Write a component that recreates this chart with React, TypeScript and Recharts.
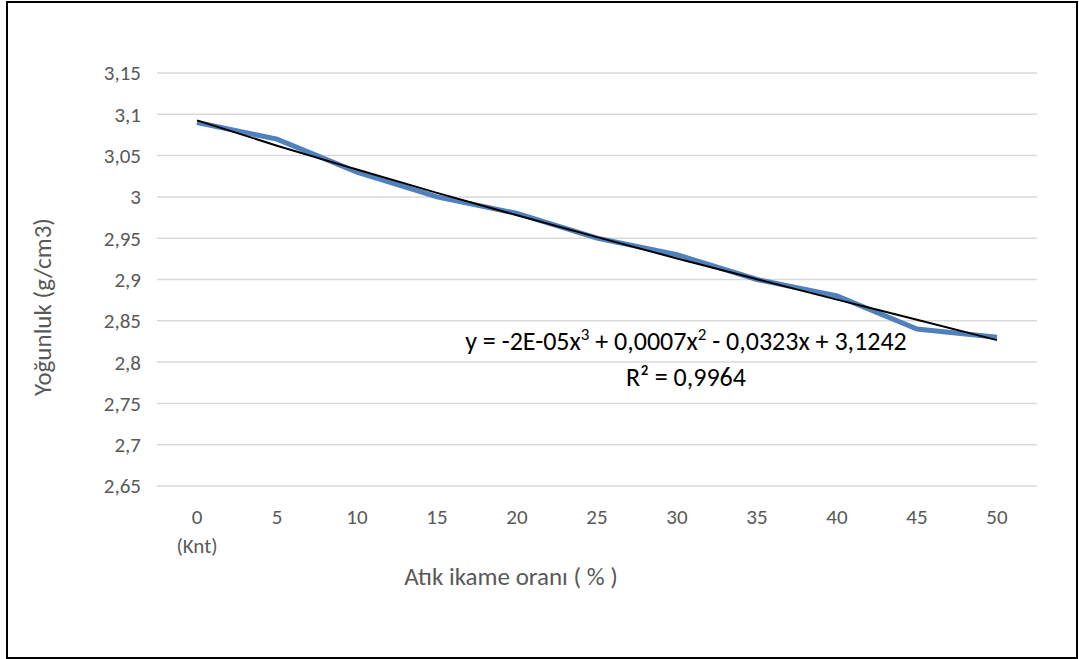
import React from "react";
import { ComposedChart, Line, XAxis, YAxis, CartesianGrid } from "recharts";

// categories on the x axis (Atık ikame oranı %)
const categories = ["0", "5", "10", "15", "20", "25", "30", "35", "40", "45", "50"];
const density = [3.09, 3.07, 3.03, 3.0, 2.98, 2.95, 2.93, 2.9, 2.88, 2.84, 2.83];
// polynomial trendline (3rd order)
const trend = [3.0926, 3.062, 3.0331, 3.0049, 2.9777, 2.9513, 2.9255, 2.9004, 2.8756, 2.8512, 2.8266];
const yTicks = [2.65, 2.7, 2.75, 2.8, 2.85, 2.9, 2.95, 3, 3.05, 3.1, 3.15];

const data = categories.map((c, i) => ({ cat: c, density: density[i], trend: trend[i] }));

const FONT = "Calibri, Carlito, 'Liberation Sans', sans-serif";
const GREY = "#595959";

const fmt = (v: number) => String(v).replace(".", ",");

const XTick = (props: any) => {
  const { x, y, payload } = props;
  return (
    <g transform={`translate(${x},${y})`}>
      <text x={0} y={0} dy={16} textAnchor="middle" fill={GREY} fontSize={21} fontFamily={FONT}>
        {payload.value}
      </text>
      {payload.value === "0" && (
        <text x={0} y={0} dy={45} textAnchor="middle" fill={GREY} fontSize={21} fontFamily={FONT}>
          (Knt)
        </text>
      )}
    </g>
  );
};

export default function App() {
  return (
    <div style={{ position: "absolute", left: 0, top: 0, width: 1079, height: 659, background: "#fff", fontFamily: FONT }}>
      <div
        style={{
          position: "absolute",
          left: 6,
          top: 1,
          width: 1072,
          height: 658,
          border: "2px solid #000",
          boxSizing: "border-box",
        }}
      />
      <ComposedChart width={1079} height={659} data={data} margin={{ top: 73, right: 42, bottom: 143, left: 97 }}>
        <CartesianGrid vertical={false} stroke="#d9d9d9" strokeWidth={1.5} />
        <XAxis
          dataKey="cat"
          axisLine={false}
          tickLine={false}
          interval={0}
          tickSize={0}
          tickMargin={22}
          padding={{ left: 40, right: 40 }}
          tick={<XTick />}
        />
        <YAxis
          width={60}
          domain={[2.65, 3.15]}
          ticks={yTicks}
          interval={0}
          axisLine={false}
          tickLine={false}
          tickSize={0}
          tickMargin={16}
          tickFormatter={fmt}
          tick={{ fill: GREY, fontSize: 21, fontFamily: FONT }}
        />
        <Line
          dataKey="density"
          type="linear"
          stroke="#4F81BD"
          strokeWidth={5}
          dot={false}
          isAnimationActive={false}
        />
        <Line
          dataKey="trend"
          type="monotone"
          stroke="#000"
          strokeWidth={2}
          dot={false}
          isAnimationActive={false}
        />
      </ComposedChart>
      <div
        style={{
          position: "absolute",
          left: 42,
          top: 307,
          transform: "translate(-50%, -50%) rotate(-90deg)",
          whiteSpace: "nowrap",
          color: GREY,
          fontSize: 25,
        }}
      >
        Yoğunluk (g/cm3)
      </div>
      <div
        style={{
          position: "absolute",
          left: 511,
          top: 576,
          transform: "translate(-50%, -50%)",
          whiteSpace: "nowrap",
          color: GREY,
          fontSize: 25,
        }}
      >
        Atık ikame oranı ( % )
      </div>
      <div
        style={{
          position: "absolute",
          left: 686,
          top: 359,
          transform: "translate(-50%, -50%)",
          whiteSpace: "nowrap",
          color: "#000",
          fontSize: 26,
          textAlign: "center",
          lineHeight: "36px",
        }}
      >
        y = -2E-05x<sup style={{ fontSize: 17, lineHeight: 0 }}>3</sup> + 0,0007x
        <sup style={{ fontSize: 17, lineHeight: 0 }}>2</sup> - 0,0323x + 3,1242
        <br />
        R² = 0,9964
      </div>
    </div>
  );
}
